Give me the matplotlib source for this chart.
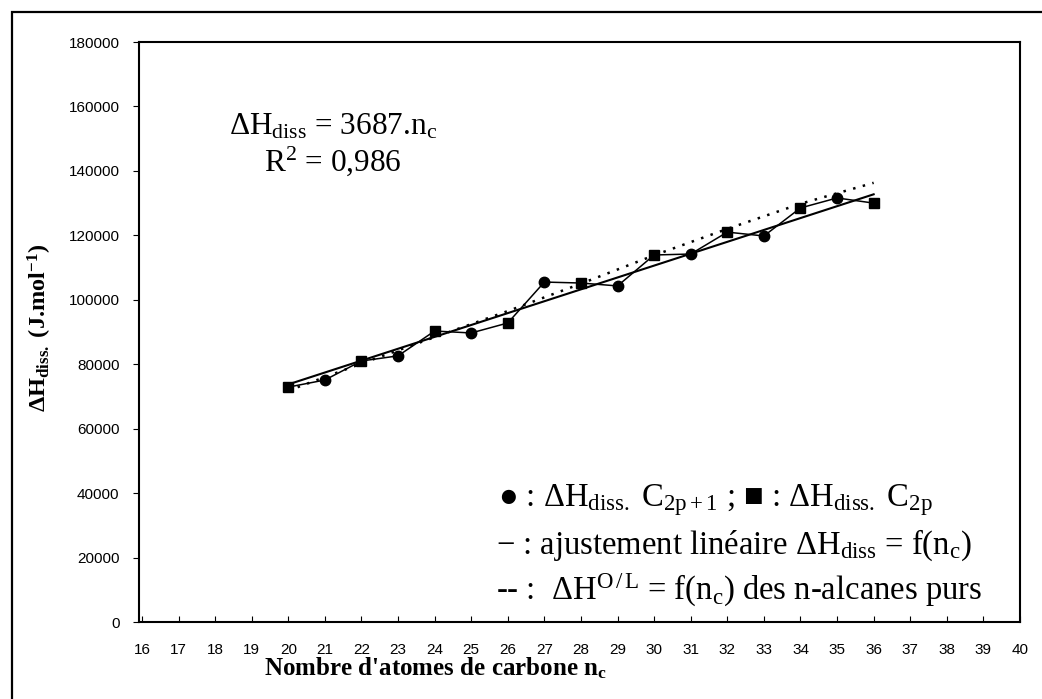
import matplotlib
matplotlib.use("Agg")
import matplotlib.pyplot as plt
from matplotlib.patches import Rectangle

plt.rcParams['mathtext.fontset'] = 'custom'
plt.rcParams['mathtext.rm'] = 'Liberation Serif'
plt.rcParams['mathtext.it'] = 'Liberation Serif:italic'
plt.rcParams['mathtext.bf'] = 'Liberation Serif:bold'

# values
nc = [20, 21, 22, 23, 24, 25, 26, 27, 28, 29, 30, 31, 32, 33, 34, 35, 36]
dh_diss = [72900, 75100, 81000, 82600, 90300, 89700, 92800, 105500, 105200,
           104300, 113900, 114200, 121000, 119800, 128500, 131600, 130000]

# linear fit dH = 3687.nc, drawn between the end points
fit_nc = [20, 36]
fit_dh = [73740, 132732]

# dH O/L of the pure n-alkanes
pure_nc = [20, 22, 24, 26, 28, 30, 32, 34, 36]
pure_dh = [71800, 80200, 88400, 96500, 105000, 113800, 122000, 129800, 136300]

x_ticks = list(range(16, 41))
y_ticks = list(range(0, 180001, 20000))

odd_nc = [n for n in nc if n % 2 == 1]
odd_dh = [v for n, v in zip(nc, dh_diss) if n % 2 == 1]
even_nc = [n for n in nc if n % 2 == 0]
even_dh = [v for n, v in zip(nc, dh_diss) if n % 2 == 0]

fig = plt.figure(figsize=(10.42, 6.99), dpi=100)
ax = fig.add_axes([139 / 1042, 1 - 622 / 699, (1020 - 139) / 1042, (622 - 42) / 699])

ax.plot(pure_nc, pure_dh, color='black', lw=1.8, ls=(0, (1, 3)))
ax.plot(fit_nc, fit_dh, color='black', lw=1.5)
ax.plot(nc, dh_diss, color='black', lw=1.1)
ax.plot(odd_nc, odd_dh, 'o', color='black', ms=7.5)
ax.plot(even_nc, even_dh, 's', color='black', ms=7)

ax.set_xlim(15.92, 40)
ax.set_ylim(0, 180000)
ax.set_xticks(x_ticks)
ax.set_yticks(y_ticks)
ax.tick_params(axis='x', direction='in', length=4, pad=15, labelsize=11)
ax.tick_params(axis='y', direction='out', length=4, pad=10, labelsize=11)
for lab in ax.get_xticklabels() + ax.get_yticklabels():
    lab.set_family('Liberation Sans')
for s in ax.spines.values():
    s.set_linewidth(1.5)

fig.text(435 / 1042, 1 - 668 / 699, "Nombre d'atomes de carbone n$_\\mathbf{c}$",
         family='Liberation Serif', weight='bold', fontsize=18, ha='center', va='center')
fig.text(40 / 1042, 1 - 328 / 699, "ΔH$_{\\mathbf{diss.}}$ (J.mol$^{\\mathbf{-1}}$)",
         family='Liberation Serif', weight='bold', fontsize=17.5, ha='center', va='center',
         rotation=90)

ax.text((333 - 139) / 881, (622 - 127) / 580, "ΔH$_{\\mathrm{diss}}$ = 3687.n$_\\mathrm{c}$",
        transform=ax.transAxes, family='Liberation Serif', fontsize=22.5, ha='center', va='center')
ax.text((333 - 139) / 881, (622 - 161) / 580, "R$^2$ = 0,986",
        transform=ax.transAxes, family='Liberation Serif', fontsize=22.5, ha='center', va='center')

leg_fam = ['Liberation Serif', 'DejaVu Sans']
ax.text(0.407, 0.21, "● : ΔH$_{\\mathrm{diss.}}$ C$_{\\mathrm{2p+1}}$ ; ■ : ΔH$_{\\mathrm{diss.}}$ C$_{\\mathrm{2p}}$",
        transform=ax.transAxes, family=leg_fam, fontsize=23.5, ha='left', va='center')
ax.text(0.405, 0.132, "− : ajustement linéaire ΔH$_{\\mathrm{diss}}$ = f(n$_\\mathrm{c}$)",
        transform=ax.transAxes, family=leg_fam, fontsize=23.5, ha='left', va='center')
ax.text(0.405, 0.054, "-- :  ΔH$^{\\mathrm{O\\,/\\,L}}$ = f(n$_\\mathrm{c}$) des n-alcanes purs",
        transform=ax.transAxes, family=leg_fam, fontsize=23.5, ha='left', va='center')

fig.patches.append(Rectangle((12 / 1042, -0.1), 1.2, 1.1 - 12 / 699, transform=fig.transFigure,
                             fill=False, lw=1.6, ec='black'))

fig.savefig('out.png', dpi=100)
